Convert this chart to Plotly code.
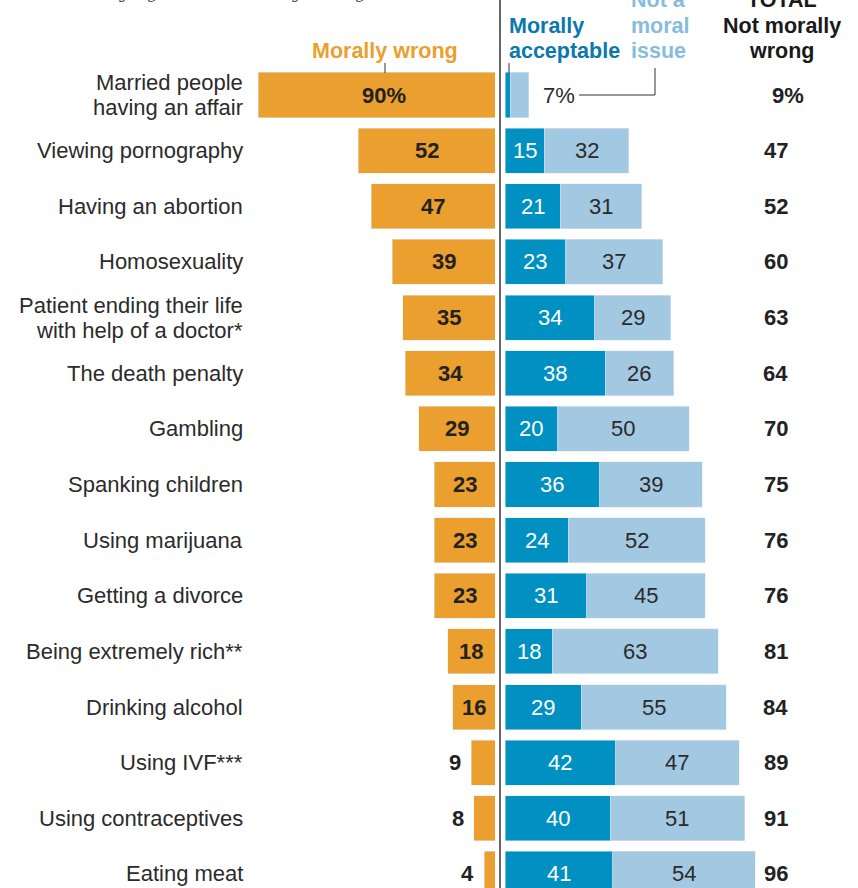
import plotly.graph_objects as go

# ---------------- data ----------------
categories = [
    "Married people<br>having an affair",
    "Viewing pornography",
    "Having an abortion",
    "Homosexuality",
    "Patient ending their life<br>with help of a doctor*",
    "The death penalty",
    "Gambling",
    "Spanking children",
    "Using marijuana",
    "Getting a divorce",
    "Being extremely rich**",
    "Drinking alcohol",
    "Using IVF***",
    "Using contraceptives",
    "Eating meat",
]
morally_wrong = [90, 52, 47, 39, 35, 34, 29, 23, 23, 23, 18, 16, 9, 8, 4]
morally_acceptable = [2, 15, 21, 23, 34, 38, 20, 36, 24, 31, 18, 29, 42, 40, 41]
not_moral_issue = [7, 32, 31, 37, 29, 26, 50, 39, 52, 45, 63, 55, 47, 51, 54]
total_not_wrong = [9, 47, 52, 60, 63, 64, 70, 75, 76, 76, 81, 84, 89, 91, 96]

# ---------------- style ----------------
W, H = 858, 888
ORANGE = "#EA9F2E"
DARK_BLUE = "#0091C2"
LIGHT_BLUE = "#A2C8E2"
HDR_DARK_BLUE = "#0A78AE"
HDR_LIGHT_BLUE = "#86BCDD"
TXT = "#222222"
LBL = "#2b2b2b"
SANS = "Liberation Sans, Arial, sans-serif"

PX_PER_UNIT = 2.633
ROW0, ROW_STEP = 95.0, 55.64
ORANGE_RIGHT, BLUE_LEFT = 495, 505


def px(x):
    return x / W


def py(y):
    return 1 - y / H


n = len(categories)
idx = list(range(n))

fig = go.Figure()
fig.add_trace(go.Bar(
    y=idx, x=morally_wrong, orientation="h", marker_color=ORANGE,
    width=0.81, xaxis="x", yaxis="y", hoverinfo="skip", name="Morally wrong",
))
fig.add_trace(go.Bar(
    y=idx, x=morally_acceptable, orientation="h", marker_color=DARK_BLUE,
    width=0.81, xaxis="x2", yaxis="y", hoverinfo="skip", name="Morally acceptable",
))
fig.add_trace(go.Bar(
    y=idx, x=not_moral_issue, base=morally_acceptable, orientation="h",
    marker_color=LIGHT_BLUE, width=0.81, xaxis="x2", yaxis="y",
    hoverinfo="skip", name="Not a moral issue",
))

ann = []

# category labels
for i, c in enumerate(categories):
    lines = c.split("<br>")
    k = len(lines)
    for j, ln in enumerate(lines):
        off = (j - (k - 1) / 2) * 25
        ann.append(dict(
            x=px(245), xref="paper", y=i, yref="y", yshift=-off,
            text=ln, showarrow=False, xanchor="right", yanchor="middle",
            font=dict(family=SANS, size=22, color=LBL),
        ))

# orange values
for i, v in enumerate(morally_wrong):
    if v >= 15:
        t = f"{v}%" if i == 0 else f"{v}"
        ann.append(dict(
            x=v / 2, xref="x", y=i, yref="y", text=f"<b>{t}</b>",
            xshift=7 if i == 0 else 0,
            showarrow=False, xanchor="center", yanchor="middle",
            font=dict(family=SANS, size=22, color=TXT),
        ))
    else:
        ann.append(dict(
            x=v, xref="x", y=i, yref="y", text=f"<b>{v}</b>", xshift=-8,
            showarrow=False, xanchor="right", yanchor="middle",
            font=dict(family=SANS, size=22, color=TXT),
        ))

# blue values
for i, (a, b) in enumerate(zip(morally_acceptable, not_moral_issue)):
    if a >= 5:
        ann.append(dict(
            x=a / 2, xref="x2", y=i, yref="y", text=f"{a}",
            showarrow=False, xanchor="center", yanchor="middle",
            font=dict(family=SANS, size=22, color="white"),
        ))
    if i == 0:
        ann.append(dict(
            x=a + b, xref="x2", y=i, yref="y", text=f"{b}%", xshift=12,
            showarrow=False, xanchor="left", yanchor="middle",
            font=dict(family=SANS, size=22, color=LBL),
        ))
    else:
        ann.append(dict(
            x=a + b / 2, xref="x2", y=i, yref="y", text=f"{b}",
            showarrow=False, xanchor="center", yanchor="middle",
            font=dict(family=SANS, size=22, color=LBL),
        ))

# totals
for i, v in enumerate(total_not_wrong):
    t = f"{v}%" if i == 0 else f"{v}"
    ann.append(dict(
        x=px(790), xref="paper", y=i, yref="y", text=f"<b>{t}</b>",
        xshift=16 if i == 0 else 0,
        showarrow=False, xanchor="right", yanchor="middle",
        font=dict(family=SANS, size=22, color=TXT),
    ))


def hdr(text, x, base_y, color, anchor, size=21.5):
    ann.append(dict(
        x=px(x), xref="paper", y=py(base_y - 0.36 * size), yref="paper",
        text=f"<b>{text}</b>", showarrow=False, xanchor=anchor, yanchor="middle",
        font=dict(family=SANS, size=size, color=color),
    ))


hdr("Morally wrong", 385, 59, ORANGE, "center")
hdr("Morally", 507, 34, HDR_DARK_BLUE, "left")
hdr("acceptable", 507, 59, HDR_DARK_BLUE, "left")
hdr("Not a", 629, 8, HDR_LIGHT_BLUE, "left")
hdr("moral", 629, 34, HDR_LIGHT_BLUE, "left")
hdr("issue", 629, 59, HDR_LIGHT_BLUE, "left")
hdr("TOTAL", 782, 8, "#1a1a1a", "center")
hdr("Not morally", 782, 34, "#1a1a1a", "center")
hdr("wrong", 782, 59, "#1a1a1a", "center")

# clipped subtitle at the very top (only descenders visible)
ann.append(dict(
    x=px(75), xref="paper", y=py(4), yref="paper",
    text="<i>% saying each is morally wrong</i>",
    showarrow=False, xanchor="left", yanchor="bottom",
    font=dict(family="DejaVu Serif, serif", size=18, color="#555555"),
))

shapes = [
    dict(type="line", xref="paper", yref="paper", x0=px(500), x1=px(500),
         y0=0, y1=1, line=dict(color="#333333", width=1.5)),
    dict(type="line", xref="paper", yref="paper", x0=px(385), x1=px(385),
         y0=py(63), y1=py(73), line=dict(color="#333333", width=1)),
    dict(type="line", xref="paper", yref="paper", x0=px(509), x1=px(509),
         y0=py(63), y1=py(73), line=dict(color="#333333", width=1)),
    dict(type="line", xref="paper", yref="paper", x0=px(579), x1=px(655),
         y0=py(95), y1=py(95), line=dict(color="#333333", width=1)),
    dict(type="line", xref="paper", yref="paper", x0=px(655), x1=px(655),
         y0=py(68), y1=py(95), line=dict(color="#333333", width=1)),
]

y_top = -ROW0 / ROW_STEP
y_bot = (H - ROW0) / ROW_STEP

fig.update_layout(
    width=W, height=H,
    margin=dict(l=0, r=0, t=0, b=0),
    paper_bgcolor="white", plot_bgcolor="white",
    barmode="stack", showlegend=False,
    xaxis=dict(domain=[0, ORANGE_RIGHT / W],
               range=[ORANGE_RIGHT / PX_PER_UNIT, 0],
               visible=False, fixedrange=True),
    xaxis2=dict(domain=[BLUE_LEFT / W, 1],
                range=[0, (W - BLUE_LEFT) / PX_PER_UNIT],
                visible=False, fixedrange=True, anchor="y"),
    yaxis=dict(range=[y_bot, y_top], visible=False, fixedrange=True),
    annotations=ann, shapes=shapes,
)

fig.write_html("out.html")
